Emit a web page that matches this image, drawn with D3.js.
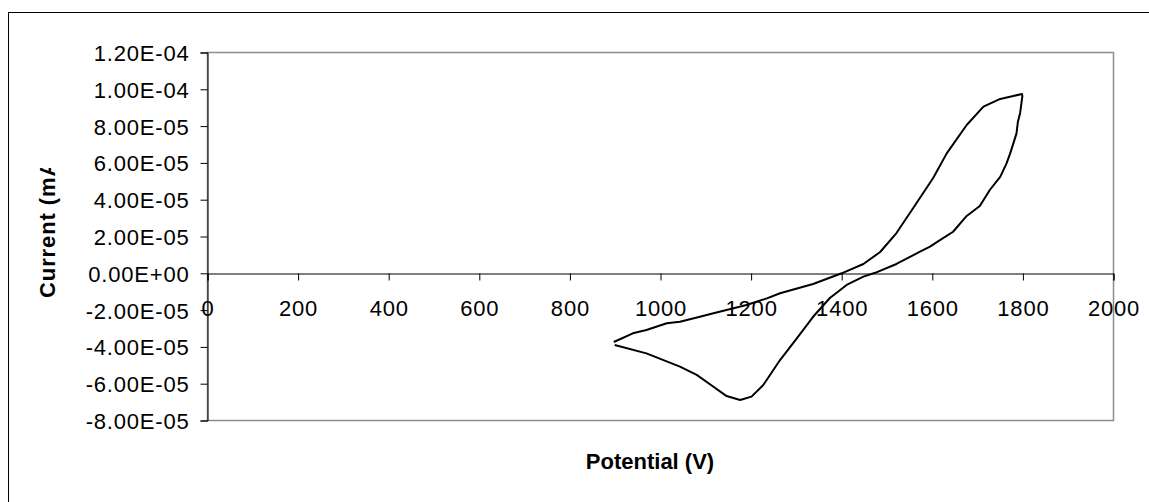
<!DOCTYPE html>
<html>
<head>
<meta charset="utf-8">
<script src="https://cdn.jsdelivr.net/npm/d3@7"></script>
<style>
  html, body { margin: 0; padding: 0; background: #fff; }
  svg { display: block; }
  text { font-family: "Liberation Sans", Arial, sans-serif; fill: #000; }
</style>
</head>
<body>
<svg id="chart" width="1149" height="502"></svg>
<script>
// ---- data ----
const potential = [
  898, 940, 970, 1015, 1044, 1088, 1118, 1191, 1236, 1265, 1338, 1401, 1449, 1486,
  1522, 1559, 1603, 1633, 1677, 1714, 1751, 1780, 1799,
  1800, 1795, 1790, 1787, 1779, 1773, 1765, 1751, 1728, 1706, 1677, 1647, 1618,
  1596, 1574, 1522, 1475, 1449, 1412, 1375, 1338, 1302, 1265, 1228, 1202, 1177,
  1147, 1118, 1081, 1044, 970, 900
];
const current = [
  -3.76e-5, -3.29e-5, -3.11e-5, -2.74e-5, -2.66e-5, -2.39e-5, -2.20e-5, -1.75e-5,
  -1.39e-5, -1.11e-5, -6.1e-6, -2.7e-7, 4.8e-6, 1.13e-5,
  2.16e-5, 3.52e-5, 5.15e-5, 6.49e-5, 8.03e-5, 9.03e-5, 9.45e-5, 9.61e-5, 9.72e-5,
  9.61e-5, 8.69e-5, 8.20e-5, 7.58e-5, 6.95e-5, 6.49e-5, 5.95e-5, 5.21e-5, 4.50e-5,
  3.63e-5, 3.09e-5, 2.23e-5, 1.78e-5,
  1.42e-5, 1.15e-5, 4.8e-6, 0, -2.1e-6, -6.6e-6, -1.37e-5, -2.39e-5, -3.56e-5,
  -4.74e-5, -6.10e-5, -6.73e-5, -6.91e-5,
  -6.70e-5, -6.19e-5, -5.55e-5, -5.10e-5, -4.38e-5, -3.92e-5
];
const xTicks = [0, 200, 400, 600, 800, 1000, 1200, 1400, 1600, 1800, 2000];
const yTicks = [-8e-5, -6e-5, -4e-5, -2e-5, 0, 2e-5, 4e-5, 6e-5, 8e-5, 1e-4, 1.2e-4];
const yTickLabels = ["-8.00E-05", "-6.00E-05", "-4.00E-05", "-2.00E-05", "0.00E+00",
  "2.00E-05", "4.00E-05", "6.00E-05", "8.00E-05", "1.00E-04", "1.20E-04"];
const xTitle = "Potential (V)";
const yTitle = "Current (mA)";

// ---- layout ----
const svg = d3.select("#chart");
const L = 207, R = 1113, T = 52, B = 420;
const x = d3.scaleLinear().domain([0, 2000]).range([L, R]);
const y = d3.scaleLinear().domain([-8e-5, 1.2e-4]).range([B, T]);

// outer chart frame (only top/left visible)
svg.append("rect")
  .attr("x", 8.5).attr("y", 12.5).attr("width", 1300).attr("height", 700)
  .attr("fill", "none").attr("stroke", "#000").attr("stroke-width", 1);

// plot area border (gray)
svg.append("rect")
  .attr("x", L + 0.5).attr("y", T + 0.5).attr("width", R - L).attr("height", B - T)
  .attr("fill", "none").attr("stroke", "#8c8c8c").attr("stroke-width", 1.5);

// y axis
const yAxis = d3.axisLeft(y).tickValues(yTicks).tickSize(7)
  .tickFormat((d, i) => yTickLabels[i]);
const gy = svg.append("g").attr("transform", `translate(${L + 0.5},0.5)`).call(yAxis);
gy.select(".domain").attr("stroke", "#000");
gy.selectAll(".tick line").attr("stroke", "#000");
gy.selectAll(".tick text")
  .attr("x", -18)
  .attr("dy", "0.36em")
  .style("font-size", "22px")
  .style("letter-spacing", "0.8px")
  .style("font-family", "'Liberation Sans', Arial, sans-serif")
  .attr("fill", "#000");

// x axis at zero line
const xAxis = d3.axisBottom(x).tickValues(xTicks).tickSize(7).tickFormat(d3.format("d"));
const gx = svg.append("g").attr("transform", `translate(0.5,${Math.round(y(0)) + 0.5})`).call(xAxis);
gx.select(".domain").attr("stroke", "#000");
gx.selectAll(".tick line").attr("stroke", "#000");
gx.selectAll(".tick text")
  .attr("y", 28)
  .attr("dy", "0.68em")
  .style("font-size", "22px")
  .style("letter-spacing", "0.8px")
  .style("font-family", "'Liberation Sans', Arial, sans-serif")
  .attr("fill", "#000");

// curve
const pts = potential.map((v, i) => [v, current[i]]);
const line = d3.line().x(d => x(d[0])).y(d => y(d[1]));
svg.append("path")
  .datum(pts)
  .attr("d", line)
  .attr("fill", "none")
  .attr("stroke", "#000")
  .attr("stroke-width", 2)
  .attr("stroke-linejoin", "round");

// axis titles
svg.append("text")
  .attr("x", 650).attr("y", 469)
  .attr("text-anchor", "middle")
  .style("font-size", "22px").style("font-weight", "bold")
  .text(xTitle);

svg.append("defs").append("clipPath").attr("id", "yclip")
  .append("rect").attr("x", 0).attr("y", 168).attr("width", 90).attr("height", 200);
svg.append("g").attr("clip-path", "url(#yclip)")
  .append("text")
  .attr("transform", "translate(55,298) rotate(-90)")
  .attr("text-anchor", "start")
  .style("font-size", "22px").style("font-weight", "bold")
  .style("letter-spacing", "0.9px")
  .text(yTitle);
</script>
</body>
</html>
